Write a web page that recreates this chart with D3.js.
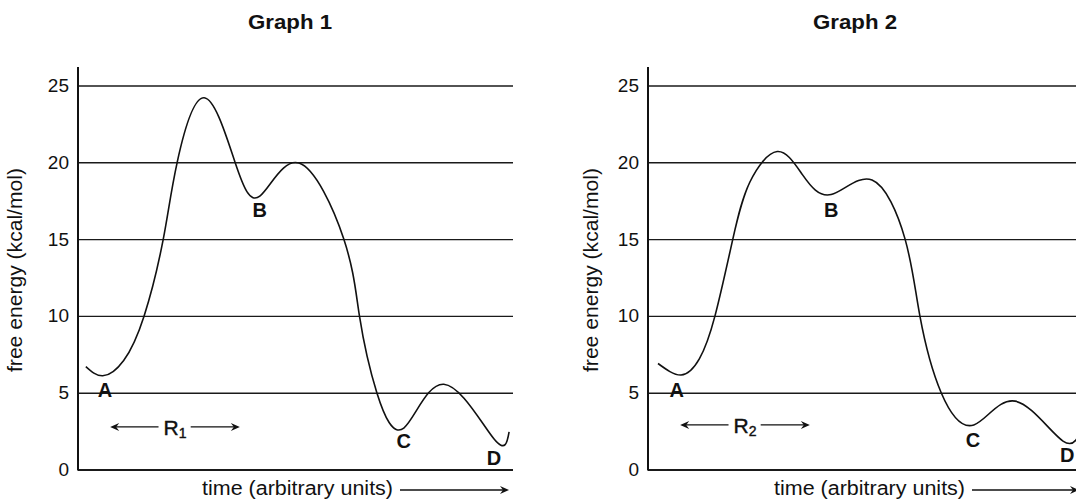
<!DOCTYPE html>
<html>
<head>
<meta charset="utf-8">
<script src="https://cdn.jsdelivr.net/npm/d3@7"></script>
<style>
  html, body { margin: 0; padding: 0; background: #fff; }
  svg { display: block; font-family: "Liberation Sans", Arial, sans-serif; }
</style>
</head>
<body>
<div id="chart"></div>
<script>
// ── data ─────────────────────────────────────────────────────
const yTicks = [0, 5, 10, 15, 20, 25];

// time in arbitrary units (0–100 across the plot), free energy in kcal/mol
const graph1Time   = [1.8, 5.7, 10.5, 15.2, 19.6, 22.8, 29.0, 36.1, 41.8, 50.8, 61.1, 64.7, 68.7, 74.9, 84.1, 95.6, 99.1];
const graph1Energy = [6.7, 6.1, 7.1, 10.0, 15.0, 20.0, 24.2, 20.0, 17.8, 19.95, 15.0, 10.0, 5.0, 2.7, 5.55, 2.0, 2.45];

const graph2Time   = [2.3, 7.6, 11.8, 15.4, 19.5, 23.4, 29.7, 35.5, 42.1, 51.5, 59.1, 62.5, 67.4, 74.9, 84.4, 95.4, 100];
const graph2Energy = [6.9, 6.15, 7.2, 10.0, 15.0, 18.7, 20.7, 19.2, 17.9, 18.85, 15.0, 10.0, 5.0, 2.9, 4.45, 1.85, 3.0];

const pointLabels = ['A', 'B', 'C', 'D'];
const graph1LabelTime   = [6.2, 41.8, 74.9, 95.6];
const graph1LabelEnergy = [5.2, 16.9, 1.85, 0.75];
const graph2LabelTime   = [6.6, 42.1, 74.7, 96.4];
const graph2LabelEnergy = [5.2, 16.9, 1.95, 0.95];

// reaction span arrows (R1, R2): [start, end] time, energy level
const graph1Span = [7.4, 37.2], graph1SpanEnergy = 2.77;
const graph2Span = [7.4, 37.2], graph2SpanEnergy = 2.9;

// ── layout ───────────────────────────────────────────────────
const W = 1076, H = 500;
const plotW = 435;
const yScale = d3.scaleLinear().domain([0, 25]).range([469.5, 85.5]);

const svg = d3.select('#chart').append('svg').attr('width', W).attr('height', H);

const panels = [
  { left: 78,  title: 'Graph 1', titleX: 290, ylabX: 15,  xlabX: 202, arrowEnd: 509,
    t: graph1Time, e: graph1Energy, lt: graph1LabelTime, le: graph1LabelEnergy,
    span: graph1Span, spanE: graph1SpanEnergy, sub: '1' },
  { left: 648, title: 'Graph 2', titleX: 855, ylabX: 591, xlabX: 774, arrowEnd: 1079,
    t: graph2Time, e: graph2Energy, lt: graph2LabelTime, le: graph2LabelEnergy,
    span: graph2Span, spanE: graph2SpanEnergy, sub: '2' },
];

function arrowHead(g, x, y, dir) {
  // small notched arrowhead, dir = 1 points right, -1 points left
  const p = d3.path();
  p.moveTo(x, y);
  p.lineTo(x - dir * 9, y - 4);
  p.lineTo(x - dir * 6, y);
  p.lineTo(x - dir * 9, y + 4);
  p.closePath();
  g.append('path').attr('d', p.toString()).attr('fill', '#111');
}

panels.forEach(cfg => {
  const x = d3.scaleLinear().domain([0, 100]).range([cfg.left, cfg.left + plotW]);
  const y = yScale;
  const g = svg.append('g');

  // grid + tick labels
  const axisG = g.append('g').attr('transform', `translate(${cfg.left},0)`)
    .call(d3.axisLeft(y).tickValues(yTicks).tickSize(-plotW).tickPadding(9));
  axisG.select('.domain').remove();
  axisG.selectAll('.tick line')
    .attr('stroke', '#1a1a1a')
    .attr('stroke-width', d => d === 0 ? 2.2 : 1.4);
  axisG.selectAll('.tick text')
    .attr('font-size', 19).attr('fill', '#111')
    .attr('font-family', '"Liberation Sans", Arial, sans-serif');

  // vertical axis
  g.append('line')
    .attr('x1', cfg.left).attr('x2', cfg.left)
    .attr('y1', 67).attr('y2', y(0) + 1)
    .attr('stroke', '#111').attr('stroke-width', 2);

  // title
  g.append('text')
    .attr('x', cfg.titleX).attr('y', 29)
    .attr('text-anchor', 'middle')
    .attr('font-size', 21).attr('font-weight', 'bold').attr('fill', '#111')
    .attr('textLength', 84).attr('lengthAdjust', 'spacingAndGlyphs')
    .text(cfg.title);

  // y label
  g.append('text')
    .attr('transform', `translate(${cfg.ylabX},270) rotate(-90)`)
    .attr('text-anchor', 'middle').attr('dominant-baseline', 'central')
    .attr('font-size', 20).attr('fill', '#111')
    .attr('textLength', 204).attr('lengthAdjust', 'spacingAndGlyphs')
    .text('free energy (kcal/mol)');

  // x label + arrow
  g.append('text')
    .attr('x', cfg.xlabX).attr('y', 495)
    .attr('font-size', 20).attr('fill', '#111')
    .attr('textLength', 191).attr('lengthAdjust', 'spacingAndGlyphs')
    .text('time (arbitrary units)');
  g.append('line')
    .attr('x1', cfg.xlabX + 198).attr('x2', cfg.arrowEnd - 6)
    .attr('y1', 490).attr('y2', 490)
    .attr('stroke', '#111').attr('stroke-width', 1.3);
  arrowHead(g, cfg.arrowEnd, 490, 1);

  // energy curve
  const pts = cfg.t.map((t, i) => [t, cfg.e[i]]);
  const line = d3.line().x(d => x(d[0])).y(d => y(d[1])).curve(d3.curveNatural);
  g.append('path').datum(pts)
    .attr('d', line)
    .attr('fill', 'none').attr('stroke', '#111').attr('stroke-width', 1.6);

  // point labels
  g.selectAll('.pt-label').data(pointLabels).enter().append('text')
    .attr('class', 'pt-label')
    .attr('x', (d, i) => x(cfg.lt[i])).attr('y', (d, i) => y(cfg.le[i]))
    .attr('text-anchor', 'middle').attr('dominant-baseline', 'central')
    .attr('font-size', 20).attr('font-weight', 'bold').attr('fill', '#111')
    .text(d => d);

  // reaction span arrow with R label
  const sy = y(cfg.spanE);
  const x1 = x(cfg.span[0]), x2 = x(cfg.span[1]);
  const rLabel = g.append('text')
    .attr('x', (x1 + x2) / 2).attr('y', sy)
    .attr('text-anchor', 'middle').attr('dominant-baseline', 'central')
    .attr('font-size', 21).attr('fill', '#111')
    .attr('stroke', '#111').attr('stroke-width', 0.4);
  rLabel.append('tspan').text('R');
  rLabel.append('tspan').attr('font-size', 14).attr('dy', 6).text(cfg.sub);
  const bb = rLabel.node().getBBox();

  g.append('line')
    .attr('x1', x1 + 4).attr('x2', bb.x - 5).attr('y1', sy).attr('y2', sy)
    .attr('stroke', '#111').attr('stroke-width', 1.3);
  g.append('line')
    .attr('x1', bb.x + bb.width + 4).attr('x2', x2 - 4).attr('y1', sy).attr('y2', sy)
    .attr('stroke', '#111').attr('stroke-width', 1.3);
  arrowHead(g, x1, sy, -1);
  arrowHead(g, x2, sy, 1);
});
</script>
</body>
</html>
